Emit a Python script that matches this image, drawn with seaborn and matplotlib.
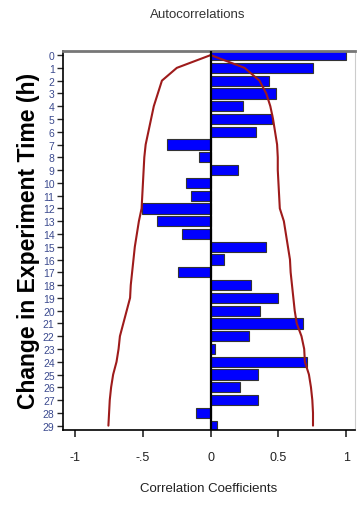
import numpy as np
import pandas as pd
import matplotlib
matplotlib.use("Agg")
import matplotlib.pyplot as plt
import seaborn as sns

# lag (h) and autocorrelation coefficients
lags = list(range(30))
acf = [1.0, 0.755, 0.43, 0.48, 0.24, 0.45, 0.335, -0.325, -0.085, 0.20,
       -0.18, -0.145, -0.51, -0.40, -0.215, 0.41, 0.10, -0.24, 0.295, 0.50,
       0.365, 0.68, 0.28, 0.03, 0.71, 0.35, 0.215, 0.35, -0.11, 0.05]

# confidence limits
upper = [0.0, 0.25, 0.36, 0.41, 0.44, 0.46, 0.475, 0.49, 0.495, 0.495,
         0.50, 0.505, 0.51, 0.54, 0.555, 0.57, 0.585, 0.59, 0.60, 0.61,
         0.62, 0.635, 0.67, 0.69, 0.695, 0.725, 0.74, 0.75, 0.755, 0.755]
lower = [0.0, -0.25, -0.36, -0.39, -0.42, -0.44, -0.46, -0.48, -0.49, -0.495,
         -0.50, -0.505, -0.51, -0.53, -0.545, -0.56, -0.57, -0.58, -0.59, -0.595,
         -0.62, -0.645, -0.67, -0.68, -0.695, -0.72, -0.735, -0.745, -0.75, -0.755]

xticks = [-1, -0.5, 0, 0.5, 1]
xticklabels = ["-1", "-.5", "0", "0.5", "1"]

sns.set_theme(style="white")
plt.rcParams['font.family'] = ['Liberation Sans', 'DejaVu Sans']

df = pd.DataFrame({"lag": lags, "acf": acf, "upper": upper, "lower": lower})

fig = plt.figure(figsize=(3.57, 5.06), dpi=100)
ax = fig.add_axes([0.1765, 0.148, 0.8179, 0.75])

sns.barplot(data=df, x="acf", y="lag", orient="h", color="#0000ff",
            saturation=1, edgecolor="#333333", linewidth=0.8, width=0.8, ax=ax)
sns.lineplot(data=df, x="upper", y="lag", sort=False, estimator=None,
             color="#9e1b1b", lw=1.5, ax=ax)
sns.lineplot(data=df, x="lower", y="lag", sort=False, estimator=None,
             color="#9e1b1b", lw=1.5, ax=ax)
ax.axvline(0, color="black", lw=1.6, zorder=5)

ax.set_xlim(-1.09, 1.065)
ax.set_ylim(29.35, -0.35)
ax.set_xticks(xticks)
ax.set_xticklabels(xticklabels, fontsize=9, color="#222222")
ax.set_yticks(lags)
ax.set_yticklabels([str(l) for l in lags], fontsize=7.5, color="#3b4a8f")
ax.tick_params(axis="x", length=5, width=1.2, direction="out", bottom=True, pad=10)
ax.tick_params(axis="y", length=4, width=1.0, direction="out", left=True, pad=2)

ax.spines["top"].set_color("#777777")
ax.spines["top"].set_linewidth(2)
ax.spines["right"].set_color("#cccccc")
ax.spines["right"].set_linewidth(0.8)
ax.spines["left"].set_color("black")
ax.spines["left"].set_linewidth(1.2)
ax.spines["bottom"].set_color("black")
ax.spines["bottom"].set_linewidth(1.2)

ax.set_xlabel("Correlation Coefficients", fontsize=9.5, color="#222222", labelpad=14)
ax.set_ylabel("Change in Experiment Time (h)", fontsize=16.5, fontweight="bold",
              color="black", labelpad=2)
fig.text(198 / 357, 0.970, "Autocorrelations", fontsize=9.5, color="#333333",
         ha="center", va="center")

fig.savefig("out.png", dpi=100)
